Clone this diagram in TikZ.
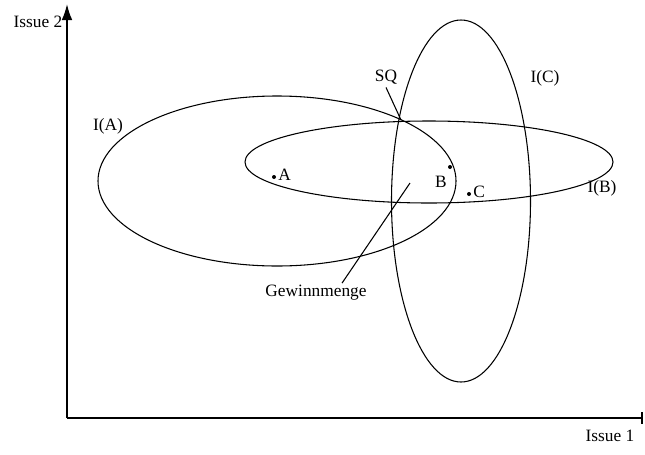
\documentclass[tikz,border=0pt]{standalone}
\usepackage{fontspec}
\setmainfont{Liberation Serif}
\usetikzlibrary{arrows.meta}
\begin{document}
\begin{tikzpicture}[x=0.75pt,y=-0.75pt,
  lbl/.style={font=\fontsize{13}{15}\selectfont, inner sep=0pt},
  curve/.style={line width=0.8pt},
  axis/.style={line width=1.3pt},
  pt/.style={circle, fill=black, inner sep=0pt, minimum size=3pt}]
\useasboundingbox (0,0) rectangle (645,454);
% axes
\coordinate (O) at (67,418);
\coordinate (Ytop) at (67,4);
\coordinate (Xend) at (643,418);
\draw[axis,-{Latex[length=12pt,width=8pt]}] (O) -- (Ytop);
\draw[axis,-{Bar[width=9pt]}] (O) -- (Xend);
\node[lbl] (y2) at (38,22) {Issue 2};
\node[lbl] (x1) at (610,436) {Issue 1};
% ellipses
\draw[curve] (277,181) ellipse [x radius=179, y radius=85];
\draw[curve] (429,162) ellipse [x radius=184, y radius=41];
\draw[curve] (461,201) ellipse [x radius=69.5, y radius=181];
\node[lbl] (IA) at (108,126) {I(A)};
\node[lbl] (IB) at (602,188) {I(B)};
\node[lbl] (IC) at (545,78) {I(C)};
% points
\node[pt] (pA) at (274,177) {};
\node[lbl,anchor=west] (lA) at (278,175) {A};
\node[pt] (pB) at (450,167) {};
\node[lbl] (lB) at (441,182) {B};
\node[pt] (pC) at (469,194) {};
\node[lbl,anchor=west] (lC) at (473,192) {C};
% SQ
\node[lbl] (SQ) at (386,77) {SQ};
\coordinate (sq) at (401,120);
\draw[curve] (SQ.south) ++(0,3) coordinate (sqs) (sqs) -- (sq);
% Gewinnmenge
\node[lbl] (G) at (316,293) {Gewinnmenge};
\coordinate (g) at (410,183);
\draw[curve] (G.north) ++(26,-2) coordinate (gs) (gs) -- (g);
\end{tikzpicture}
\end{document}
